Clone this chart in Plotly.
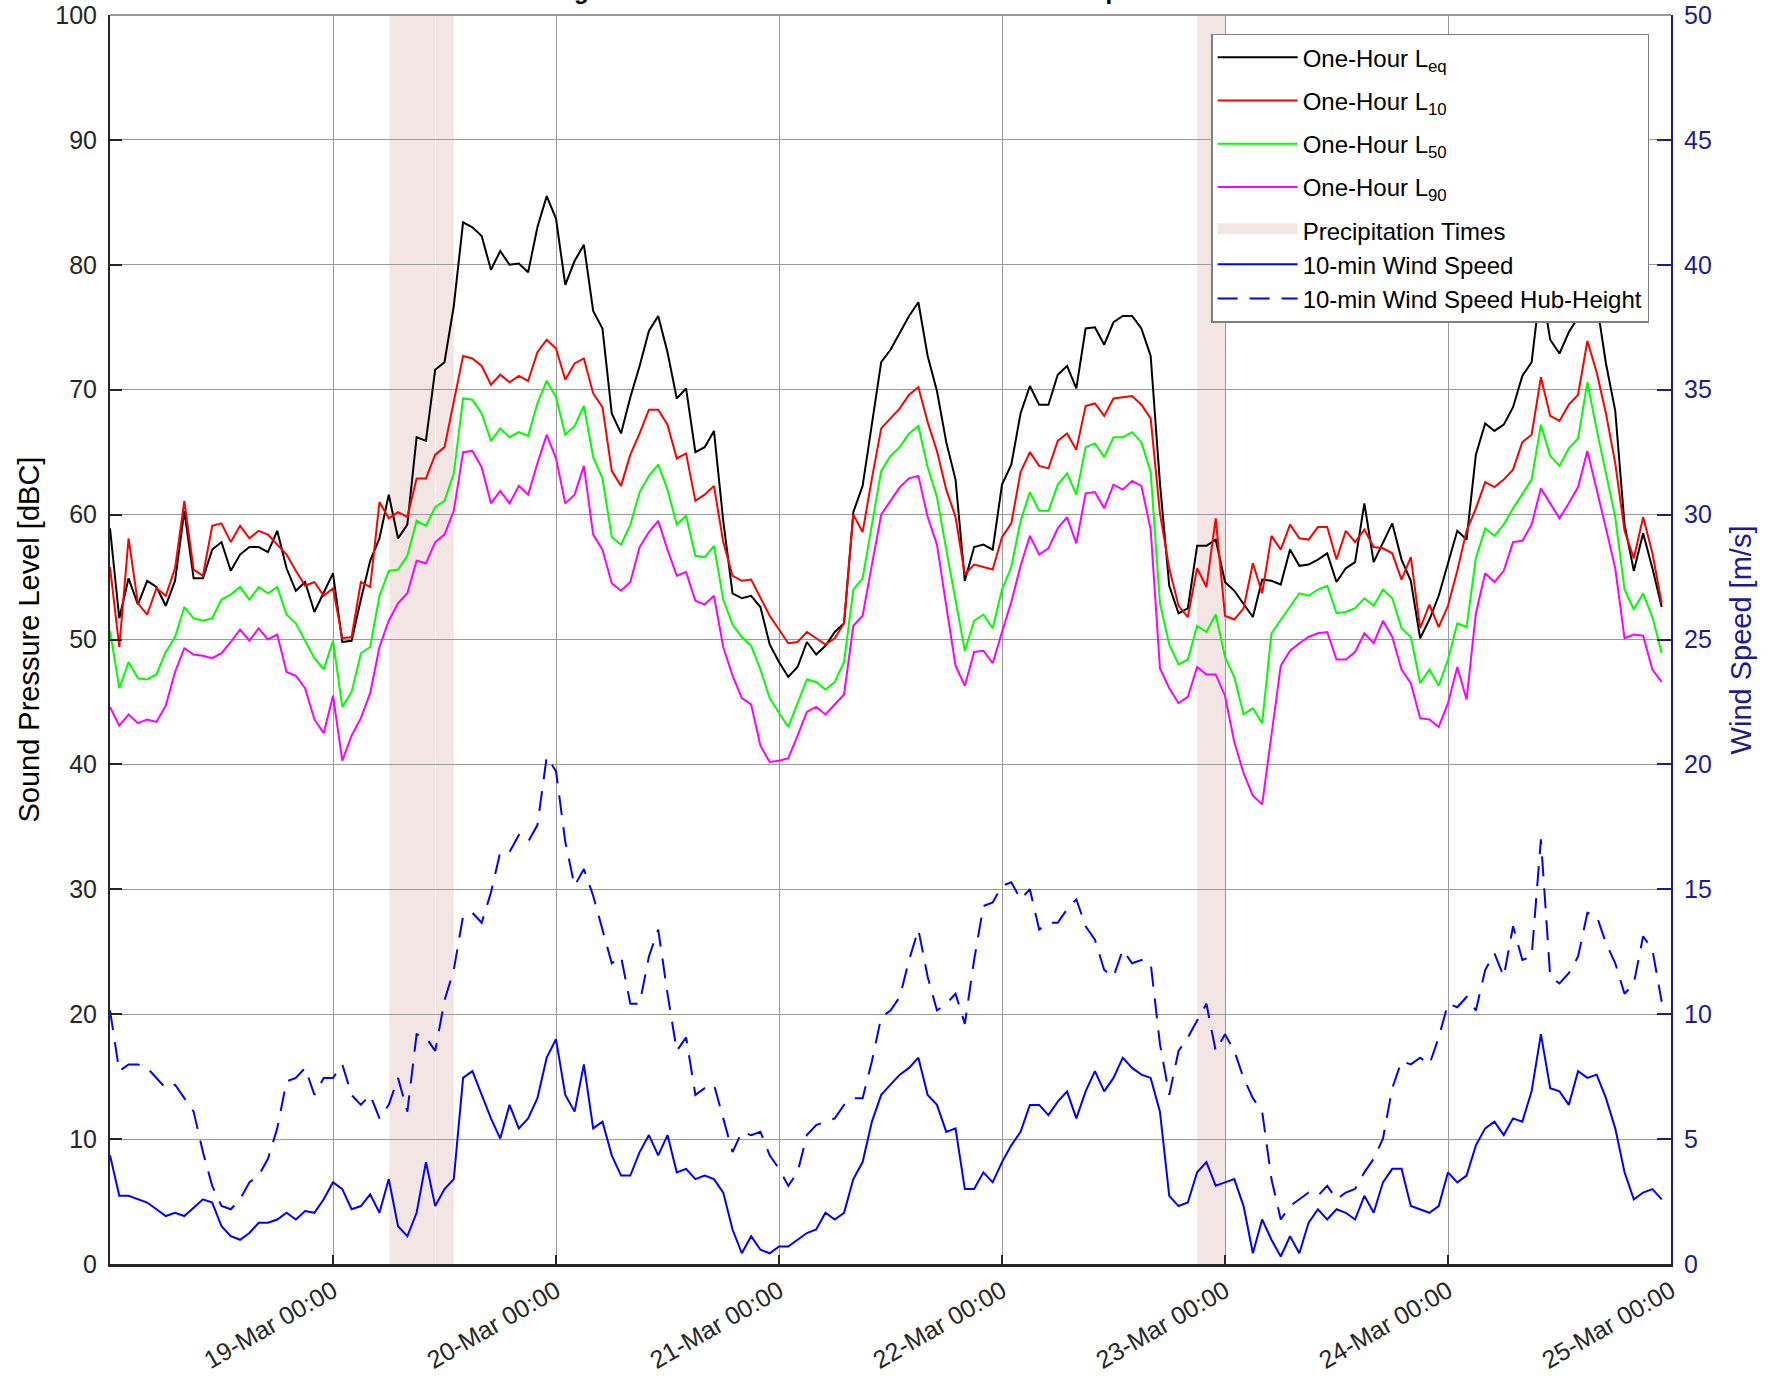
import pandas as pd
import plotly.graph_objects as go

# ---------------- data (hourly, starting 18-Mar 00:00) ----------------
START = "2019-03-18 00:00"
END = "2019-03-25 00:00"

leq = [58.9, 51.7, 54.9, 52.8, 54.7, 54.2, 52.7, 54.7, 60.3, 54.9, 54.9, 57.2, 57.8, 55.5, 56.8, 57.4, 57.4, 57.0, 58.7, 55.7, 53.9, 54.6, 52.2, 53.7,
       55.3, 49.8, 49.9, 53.2, 56.3, 58.1, 61.6, 58.1, 59.2, 66.2, 65.9, 71.6, 72.2, 76.7, 83.4, 83.0, 82.3, 79.6, 81.1, 80.0, 80.1, 79.4, 83.0, 85.5,
       83.7, 78.4, 80.3, 81.6, 76.3, 74.9, 68.1, 66.5, 69.4, 71.9, 74.7, 75.9, 73.0, 69.3, 70.1, 65.0, 65.4, 66.7, 59.5, 53.7, 53.3, 53.5, 52.6, 49.6,
       48.2, 47.0, 47.8, 49.8, 48.8, 49.5, 50.6, 51.3, 60.2, 62.3, 67.3, 72.2, 73.2, 74.5, 75.9, 77.0, 72.7, 69.9, 65.8, 62.8, 54.7, 57.4, 57.6, 57.2,
       62.4, 64.0, 68.1, 70.3, 68.8, 68.8, 71.2, 71.9, 70.1, 74.9, 75.0, 73.6, 75.4, 75.9, 75.9, 74.9, 72.7, 62.5, 54.3, 52.1, 52.5, 57.5, 57.5, 58.0,
       54.6, 53.9, 52.8, 51.8, 54.8, 54.7, 54.4, 57.2, 55.9, 56.0, 56.4, 56.9, 54.6, 55.7, 56.2, 60.9, 56.2, 57.8, 59.3, 56.4, 54.7, 50.1, 51.6, 53.5,
       56.0, 58.7, 58.0, 64.8, 67.3, 66.7, 67.2, 68.6, 71.1, 72.2, 78.5, 74.0, 72.9, 74.6, 75.8, 78.5, 77.0, 72.1, 68.3, 59.2, 55.5, 58.5, 55.7, 52.6]

l10 = [55.8, 49.4, 58.1, 52.9, 52.0, 54.1, 53.5, 55.7, 61.1, 55.6, 55.1, 59.1, 59.3, 57.8, 59.1, 58.1, 58.7, 58.4, 57.6, 56.8, 55.5, 54.3, 54.6, 53.5,
       54.1, 50.1, 50.2, 54.6, 54.2, 61.0, 59.7, 60.2, 59.8, 62.9, 62.9, 64.8, 65.4, 69.1, 72.7, 72.5, 71.9, 70.4, 71.2, 70.6, 71.1, 70.7, 73.0, 74.0,
       73.3, 70.8, 72.1, 72.5, 69.7, 68.6, 63.5, 62.3, 64.8, 66.5, 68.4, 68.4, 67.2, 64.5, 64.9, 61.1, 61.6, 62.3, 57.8, 55.1, 54.7, 54.8, 53.3, 51.9,
       50.8, 49.7, 49.8, 50.6, 50.1, 49.6, 50.1, 51.3, 60.0, 58.6, 62.9, 66.9, 67.7, 68.5, 69.6, 70.2, 67.4, 65.1, 62.0, 59.8, 55.2, 56.0, 55.8, 55.6,
       58.2, 59.3, 63.4, 65.0, 63.9, 63.7, 65.9, 66.5, 65.2, 68.7, 68.9, 67.9, 69.3, 69.4, 69.5, 68.8, 67.7, 60.1, 55.7, 52.7, 51.8, 55.7, 54.2, 59.7,
       51.9, 51.6, 52.5, 56.1, 53.7, 58.3, 57.2, 59.2, 58.1, 58.0, 59.0, 59.0, 56.4, 58.7, 57.8, 58.8, 57.4, 57.3, 56.9, 54.8, 56.6, 50.9, 52.8, 51.0,
       52.7, 55.5, 58.7, 60.5, 62.6, 62.2, 62.8, 63.6, 65.8, 66.4, 71.0, 67.9, 67.5, 68.8, 69.6, 73.9, 71.4, 68.1, 64.1, 58.7, 56.5, 59.8, 56.9, 52.9]

l50 = [50.7, 46.1, 48.2, 46.9, 46.8, 47.2, 49.0, 50.2, 52.6, 51.7, 51.5, 51.7, 53.2, 53.6, 54.2, 53.2, 54.2, 53.7, 54.2, 52.0, 51.3, 49.9, 48.5, 47.6,
       49.9, 44.6, 45.8, 48.9, 49.4, 53.5, 55.5, 55.6, 56.7, 59.5, 59.1, 60.6, 61.1, 63.3, 69.3, 69.2, 68.1, 65.9, 66.9, 66.2, 66.6, 66.3, 68.9, 70.7,
       69.4, 66.4, 67.1, 68.7, 64.6, 62.9, 58.2, 57.6, 59.2, 61.8, 63.1, 64.0, 62.0, 59.2, 59.9, 56.7, 56.6, 57.5, 53.2, 51.2, 50.2, 49.5, 47.6, 45.3,
       44.1, 43.0, 44.9, 46.8, 46.6, 46.0, 46.6, 48.2, 54.0, 54.9, 59.2, 63.5, 64.7, 65.4, 66.5, 67.1, 63.8, 61.4, 57.2, 53.2, 49.1, 51.5, 52.0, 50.9,
       54.0, 55.8, 59.5, 61.8, 60.3, 60.3, 62.4, 63.3, 61.6, 65.4, 65.7, 64.6, 66.2, 66.2, 66.6, 65.8, 63.4, 52.9, 49.6, 48.0, 48.4, 51.1, 50.6, 52.0,
       48.6, 47.0, 44.0, 44.5, 43.3, 50.5, 51.6, 52.6, 53.7, 53.5, 54.0, 54.3, 52.1, 52.2, 52.5, 53.3, 52.7, 54.0, 53.3, 50.9, 50.2, 46.5, 47.6, 46.3,
       48.4, 51.3, 51.0, 56.5, 58.9, 58.3, 59.2, 60.5, 61.7, 62.8, 67.2, 64.7, 63.9, 65.3, 66.1, 70.6, 66.8, 63.4, 59.8, 54.0, 52.4, 53.7, 51.8, 48.9]

l90 = [44.6, 43.1, 44.0, 43.3, 43.6, 43.4, 44.7, 47.4, 49.3, 48.8, 48.7, 48.5, 48.9, 49.8, 50.8, 49.9, 50.9, 50.0, 50.4, 47.4, 47.1, 46.1, 43.6, 42.5,
       45.5, 40.3, 42.3, 43.7, 45.7, 49.4, 51.5, 52.9, 53.7, 56.3, 56.1, 57.8, 58.4, 60.3, 65.0, 65.1, 63.8, 60.9, 61.9, 60.9, 62.3, 61.6, 64.1, 66.4,
       64.5, 60.9, 61.6, 63.9, 58.4, 57.2, 54.5, 53.9, 54.6, 57.4, 58.6, 59.5, 57.2, 55.1, 55.4, 53.1, 52.8, 53.5, 49.4, 47.1, 45.3, 44.8, 41.5, 40.2,
       40.3, 40.5, 42.3, 44.2, 44.6, 44.0, 44.8, 45.6, 51.1, 51.9, 56.0, 60.0, 61.1, 62.2, 62.9, 63.1, 59.8, 57.6, 52.7, 47.9, 46.3, 49.0, 49.1, 48.1,
       50.6, 53.0, 55.9, 58.3, 56.8, 57.3, 58.9, 59.8, 57.7, 61.7, 61.8, 60.5, 62.4, 62.0, 62.7, 62.3, 58.8, 47.7, 46.1, 44.9, 45.4, 47.8, 47.2, 47.2,
       45.5, 41.8, 39.3, 37.5, 36.8, 42.3, 47.9, 49.1, 49.7, 50.2, 50.5, 50.6, 48.4, 48.4, 49.0, 50.5, 49.7, 51.5, 50.2, 47.6, 46.5, 43.7, 43.6, 43.0,
       44.9, 47.8, 45.2, 52.1, 55.3, 54.6, 55.5, 57.8, 57.9, 59.2, 62.1, 60.9, 59.7, 60.9, 62.2, 65.1, 62.1, 58.9, 55.7, 50.1, 50.4, 50.3, 47.6, 46.6]

wind = [4.35, 2.73, 2.73, 2.59, 2.46, 2.19, 1.92, 2.05, 1.92, 2.25, 2.59, 2.46, 1.51, 1.11, 0.97, 1.24, 1.65, 1.65, 1.78, 2.05, 1.78, 2.12, 2.05, 2.59,
        3.27, 3.0, 2.19, 2.32, 2.79, 2.05, 3.4, 1.51, 1.11, 2.05, 4.08, 2.32, 3.0, 3.4, 7.45, 7.72, 6.77, 5.83, 5.02, 6.37, 5.43, 5.83, 6.64, 8.26,
        9.0, 6.77, 6.10, 7.99, 5.43, 5.70, 4.35, 3.54, 3.54, 4.48, 5.16, 4.35, 5.16, 3.67, 3.81, 3.40, 3.54, 3.40, 2.86, 1.38, 0.43, 1.11, 0.57, 0.43,
        0.70, 0.70, 0.97, 1.24, 1.38, 2.05, 1.78, 2.05, 3.40, 4.08, 5.70, 6.77, 7.18, 7.58, 7.85, 8.26, 6.77, 6.37, 5.29, 5.43, 3.0, 3.0, 3.67, 3.27,
        4.08, 4.75, 5.29, 6.37, 6.37, 5.96, 6.50, 6.91, 5.83, 6.91, 7.72, 6.91, 7.45, 8.26, 7.85, 7.58, 7.45, 6.10, 2.73, 2.32, 2.46, 3.67, 4.08, 3.13,
        3.27, 3.40, 2.32, 0.43, 1.78, 0.97, 0.30, 1.11, 0.43, 1.65, 2.19, 1.78, 2.19, 2.05, 1.78, 2.73, 2.05, 3.27, 3.81, 3.81, 2.32, 2.19, 2.05, 2.32,
        3.67, 3.27, 3.54, 4.75, 5.43, 5.70, 5.16, 5.83, 5.70, 6.91, 9.2, 7.04, 6.91, 6.37, 7.72, 7.45, 7.58, 6.64, 5.43, 3.67, 2.59, 2.86, 3.0, 2.59]

wind_hub = [10.15, 7.72, 7.99, 7.99, 7.85, 7.45, 7.04, 7.18, 6.64, 6.10, 4.48, 3.13, 2.32, 2.19, 2.59, 3.27, 3.54, 4.21, 5.43, 7.31, 7.45, 7.85, 6.77, 7.45,
            7.45, 7.99, 6.77, 6.37, 6.77, 5.83, 6.37, 7.45, 6.10, 9.20, 9.07, 8.53, 10.55, 11.77, 13.93, 14.06, 13.66, 14.87, 16.49, 16.49, 17.17, 16.9, 17.57, 20.3,
            19.73, 16.9, 15.14, 15.81, 14.74, 13.39, 12.04, 12.31, 10.42, 10.42, 12.31, 13.39, 10.82, 8.53, 9.07, 6.77, 7.04, 7.18, 5.83, 4.48, 5.29, 5.16, 5.29, 4.35,
            3.81, 3.13, 3.67, 5.16, 5.56, 5.70, 5.83, 6.37, 6.64, 6.64, 8.12, 9.88, 10.15, 10.69, 12.17, 13.39, 11.5, 10.15, 10.42, 10.82, 9.61, 12.17, 14.33, 14.47,
            15.14, 15.28, 14.6, 15.0, 13.39, 13.66, 13.66, 14.2, 14.6, 13.52, 12.98, 11.77, 11.5, 12.58, 12.04, 12.17, 12.04, 8.8, 6.77, 8.53, 9.07, 9.75, 10.42, 8.53,
            9.20, 8.53, 7.45, 6.64, 6.10, 3.40, 1.78, 2.32, 2.59, 2.86, 2.73, 3.13, 2.59, 2.86, 3.0, 3.67, 4.21, 5.02, 7.04, 8.12, 7.99, 8.26, 7.99, 9.07,
            10.42, 10.28, 10.69, 10.15, 11.77, 12.44, 11.5, 13.52, 12.17, 12.31, 17.0, 11.5, 11.23, 11.64, 12.31, 14.06, 13.93, 12.85, 12.04, 10.82, 11.23, 13.12, 12.58, 10.5]

precip_start = ["2019-03-19 06:05", "2019-03-19 11:05", "2019-03-22 21:00"]
precip_end = ["2019-03-19 11:00", "2019-03-19 13:00", "2019-03-23 00:00"]

tick_days = ["2019-03-19", "2019-03-20", "2019-03-21", "2019-03-22",
             "2019-03-23", "2019-03-24", "2019-03-25"]

TITLE = "Sound Pressure Magnitude Time Histories at Station 1 and Wind Speeds from 18-Mar to 25-Mar"

# ---------------- figure ----------------
times = pd.date_range(START, periods=len(leq), freq="h")
FONT = "Arial, Liberation Sans, sans-serif"
AX = "#262626"
NAVY = "#1c1c8e"
GRID = "#9a9a9a"
PINK = "#f4e5e5"

fig = go.Figure()

series = [
    (leq, "One-Hour L<sub>eq</sub>", "#000000", "g1"),
    (l10, "One-Hour L<sub>10</sub>", "#ff0000", "g2"),
    (l50, "One-Hour L<sub>50</sub>", "#00ff00", "g3"),
    (l90, "One-Hour L<sub>90</sub>", "#ff00ff", "g4"),
]
for vals, name, col, grp in series:
    fig.add_trace(go.Scatter(x=times, y=vals, name=name, mode="lines",
                             line=dict(color=col, width=2), legendgroup=grp))

# legend entry for precipitation (the shaded bands themselves are layout shapes)
fig.add_trace(go.Scatter(x=[None], y=[None], name="Precipitation Times", mode="lines",
                         fill="toself", fillcolor=PINK,
                         line=dict(width=22, color=PINK), legendgroup="g5"))

fig.add_trace(go.Scatter(x=times, y=wind, name="10-min Wind Speed", mode="lines",
                         line=dict(color="#0000ff", width=2), yaxis="y2", legendgroup="g5"))
fig.add_trace(go.Scatter(x=times, y=wind_hub, name="10-min Wind Speed Hub-Height", mode="lines",
                         line=dict(color="#0000ff", width=2, dash="20px,12px"), yaxis="y2",
                         legendgroup="g5"))

shapes = []
for s, e in zip(precip_start, precip_end):
    shapes.append(dict(type="rect", xref="x", yref="paper", x0=s, x1=e, y0=0, y1=1,
                       fillcolor=PINK, line=dict(width=0), layer="below"))
# grey top frame line
shapes.append(dict(type="line", xref="paper", yref="paper", x0=0, x1=1, y0=1, y1=1,
                   line=dict(color="#9a9a9a", width=2), layer="above"))

fig.update_layout(
    width=1781, height=1385,
    margin=dict(l=110, r=110, t=15, b=121, autoexpand=False),
    paper_bgcolor="white", plot_bgcolor="white",
    font=dict(family=FONT, size=24, color=AX),
    showlegend=True,
    shapes=shapes,
    legend=dict(x=0.986, xanchor="right", y=0.985, yanchor="top",
                bgcolor="white", bordercolor="#7f7f7f", borderwidth=1.5,
                font=dict(family=FONT, size=24, color="#000000"),
                itemwidth=80, tracegroupgap=9, traceorder="grouped"),
    xaxis=dict(type="date", range=[START, END], tickmode="array", tickvals=tick_days,
               tickformat="%d-%b %H:%M", tickangle=-30, automargin=False,
               tickfont=dict(size=25, color=AX),
               ticks="inside", ticklen=9, tickwidth=1.5, tickcolor=AX,
               showline=True, linecolor=AX, linewidth=2.5,
               showgrid=True, gridcolor=GRID, gridwidth=1, zeroline=False),
    yaxis=dict(range=[0, 100], dtick=10, tick0=0, automargin=False,
               tickfont=dict(size=25, color=AX),
               ticks="inside", ticklen=12, tickwidth=1.5, tickcolor=AX,
               ticklabelstandoff=6,
               showline=True, linecolor=AX, linewidth=2,
               showgrid=True, gridcolor=GRID, gridwidth=1, zeroline=False),
    yaxis2=dict(range=[0, 50], dtick=5, tick0=0, overlaying="y", side="right",
                automargin=False,
                tickfont=dict(size=25, color=NAVY),
                ticks="inside", ticklen=14, tickwidth=1.5, tickcolor=NAVY,
                ticklabelstandoff=6,
                showline=True, linecolor=NAVY, linewidth=2,
                showgrid=False, zeroline=False),
    annotations=[
        dict(text="Sound Pressure Level [dBC]", xref="paper", yref="paper",
             x=-0.0525, y=0.5, textangle=-90, showarrow=False,
             font=dict(size=29, color="#000000"), xanchor="center", yanchor="middle"),
        dict(text="Wind Speed [m/s]", xref="paper", yref="paper",
             x=1.0448, y=0.5, textangle=-90, showarrow=False,
             font=dict(size=29, color=NAVY), xanchor="center", yanchor="middle"),
        dict(text="<b>" + TITLE + "</b>", xref="paper", yref="paper",
             x=0.5, y=1, yshift=9, showarrow=False, xanchor="center", yanchor="bottom",
             font=dict(size=24, color="#000000")),
    ],
)

fig.write_html("out.html", config={"displayModeBar": False},
               post_script="document.body.style.margin='0px';")
